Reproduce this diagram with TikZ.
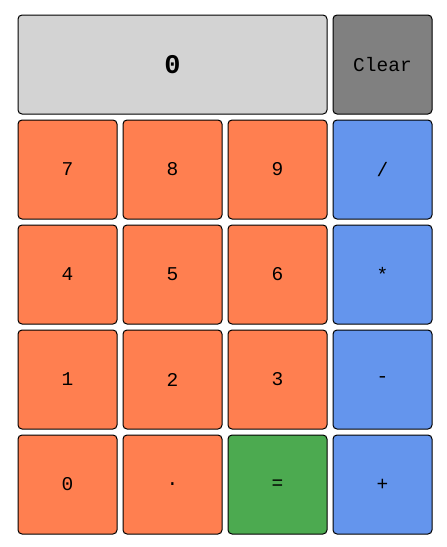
\documentclass[tikz,border=0pt]{standalone}
\usepackage{fontspec}
\setmonofont{Liberation Mono}
\definecolor{coralc}{HTML}{FF7F50}
\definecolor{bluec}{HTML}{6495ED}
\definecolor{greenc}{HTML}{4CAA50}
\definecolor{dispc}{HTML}{D3D3D3}
\definecolor{clearc}{HTML}{808080}
\tikzset{
  btn/.style={draw=black, line width=1pt, rounded corners=4pt, minimum width=99pt, minimum height=99pt, inner sep=0pt, font=\ttfamily\fontsize{19.5}{19.5}\selectfont, text=black},
  numbtn/.style={btn, fill=coralc},
  opbtn/.style={btn, fill=bluec},
  eqbtn/.style={btn, fill=greenc},
  clearbtn/.style={btn, fill=clearc},
  dispbox/.style={btn, fill=dispc, minimum width=309pt, font=\ttfamily\bfseries\fontsize{27}{27}\selectfont},
}
\begin{document}
\begin{tikzpicture}[x=1pt,y=-1pt]
\useasboundingbox (0,0) rectangle (447,547);
\node[dispbox] (disp) at (172.5,64.5) {0};
\node[clearbtn] (clear) at (382.5,64.5) {Clear};
\node[numbtn] (b7) at (67.5,169.5) {7};
\node[numbtn] (b8) at (172.5,169.5) {8};
\node[numbtn] (b9) at (277.5,169.5) {9};
\node[opbtn] (bdiv) at (382.5,169.5) {/};
\node[numbtn] (b4) at (67.5,274.5) {4};
\node[numbtn] (b5) at (172.5,274.5) {5};
\node[numbtn] (b6) at (277.5,274.5) {6};
\node[opbtn] (bmul) at (382.5,274.5) {*};
\node[numbtn] (b1) at (67.5,379.5) {1};
\node[numbtn] (b2) at (172.5,379.5) {2};
\node[numbtn] (b3) at (277.5,379.5) {3};
\node[opbtn] (bsub) at (382.5,379.5) {-};
\node[numbtn] (b0) at (67.5,484.5) {0};
\node[numbtn] (bdot) at (172.5,484.5) {.};
\node[eqbtn] (beq) at (277.5,484.5) {=};
\node[opbtn] (badd) at (382.5,484.5) {+};
\end{tikzpicture}
\end{document}
